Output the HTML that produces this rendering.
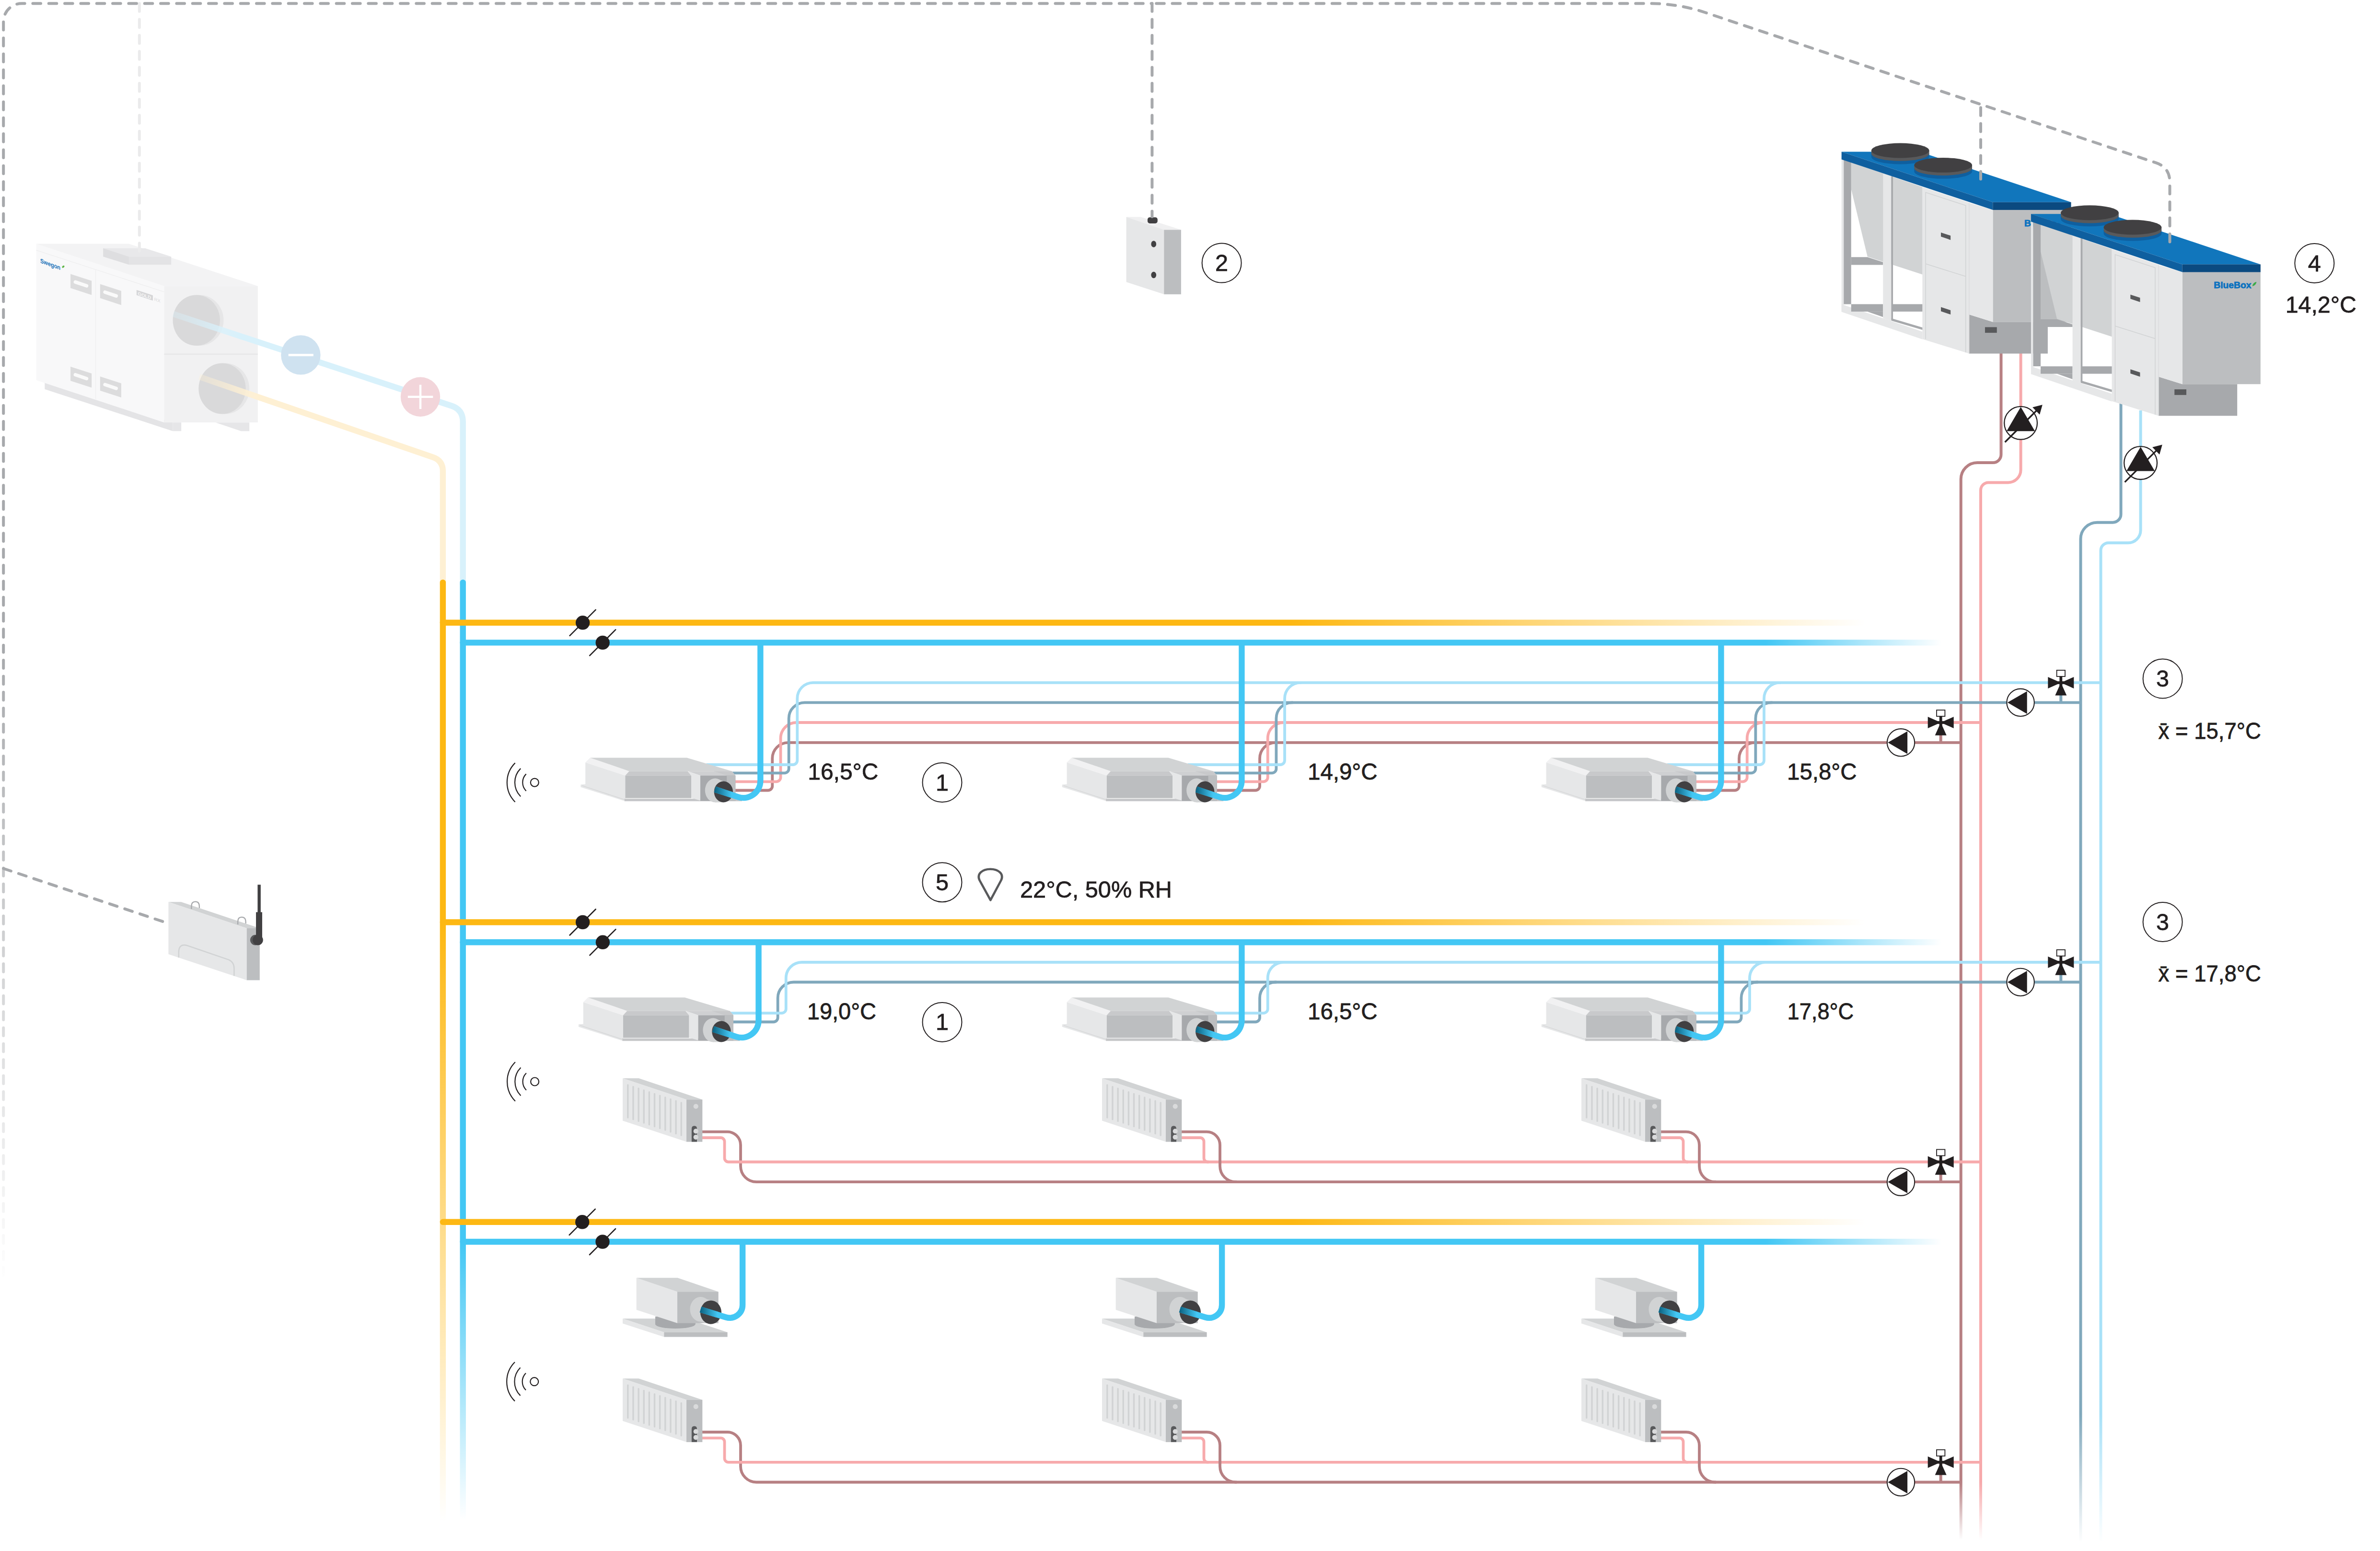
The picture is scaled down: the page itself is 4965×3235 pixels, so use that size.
<!DOCTYPE html>
<html><head><meta charset="utf-8"><style>
html,body{margin:0;padding:0;background:#fff;overflow:hidden}
svg{display:block}
.t{font-family:"Liberation Sans",sans-serif;fill:#231f20;stroke:#231f20;stroke-width:0.8px}
</style></head><body>
<svg width="4965" height="3235" viewBox="0 0 4965 3235">
<rect width="4965" height="3235" fill="#fff"/>
<defs>
<linearGradient id="gOrH" gradientUnits="userSpaceOnUse" x1="2694" y1="0" x2="3890" y2="0"><stop offset="0" stop-color="#fdb813"/><stop offset="1" stop-color="#fdb813" stop-opacity="0"/></linearGradient>
<linearGradient id="gBlH" gradientUnits="userSpaceOnUse" x1="3684" y1="0" x2="4050" y2="0"><stop offset="0" stop-color="#43c7f4"/><stop offset="1" stop-color="#43c7f4" stop-opacity="0"/></linearGradient>
<linearGradient id="gOrV" gradientUnits="userSpaceOnUse" x1="0" y1="1923" x2="0" y2="3175"><stop offset="0" stop-color="#fdb813"/><stop offset="1" stop-color="#fdb813" stop-opacity="0"/></linearGradient>
<linearGradient id="gBlV" gradientUnits="userSpaceOnUse" x1="0" y1="2590" x2="0" y2="3170"><stop offset="0" stop-color="#43c7f4"/><stop offset="1" stop-color="#43c7f4" stop-opacity="0"/></linearGradient>
<linearGradient id="gDash" gradientUnits="userSpaceOnUse" x1="0" y1="1350" x2="0" y2="2680"><stop offset="0" stop-color="#a7a9ac"/><stop offset="1" stop-color="#a7a9ac" stop-opacity="0"/></linearGradient>
<linearGradient id="gMv" gradientUnits="userSpaceOnUse" x1="0" y1="3092" x2="0" y2="3212"><stop offset="0" stop-color="#b78083"/><stop offset="1" stop-color="#b78083" stop-opacity="0"/></linearGradient>
<linearGradient id="gPk" gradientUnits="userSpaceOnUse" x1="0" y1="3092" x2="0" y2="3212"><stop offset="0" stop-color="#f7aaac"/><stop offset="1" stop-color="#f7aaac" stop-opacity="0"/></linearGradient>
<linearGradient id="gGb" gradientUnits="userSpaceOnUse" x1="0" y1="2950" x2="0" y2="3218"><stop offset="0" stop-color="#80a8bc"/><stop offset="1" stop-color="#80a8bc" stop-opacity="0"/></linearGradient>
<linearGradient id="gLb" gradientUnits="userSpaceOnUse" x1="0" y1="2950" x2="0" y2="3218"><stop offset="0" stop-color="#a8e1f8"/><stop offset="1" stop-color="#a8e1f8" stop-opacity="0"/></linearGradient>
<linearGradient id="gConn" x1="0" y1="0" x2="1" y2="0"><stop offset="0" stop-color="#0d6584"/><stop offset="1" stop-color="#43c7f4"/></linearGradient>
</defs>

<g transform="translate(0,400) scale(0.4202)">
<polygon points="222,935 858,1145 858,1188 222,980" fill="#e4e4e6"/>
<rect x="858" y="1145" width="42" height="43" fill="#e6e6e8"/>
<polygon points="1070,1145 1238,1145 1238,1188 1197,1188" fill="#e6e6e8"/>
<polygon points="180,258 815,468 815,1145 180,935" fill="#f8f8f9"/>
<polygon points="180,258 640,258 1280,468 815,468" fill="#f3f3f4"/>
<rect x="815" y="468" width="465" height="677" fill="#f1f1f2"/>
<line x1="815" y1="806" x2="1280" y2="806" stroke="#e3e3e4" stroke-width="4"/>
<line x1="180" y1="290" x2="815" y2="497" stroke="#eeeeef" stroke-width="3"/>
<line x1="475" y1="385" x2="475" y2="1030" stroke="#efeff0" stroke-width="3"/>
<polygon points="512,280 720,280 850,322 640,322" fill="#e8e8ea"/>
<polygon points="512,280 640,322 640,362 512,322" fill="#dedee0"/>
<rect x="640" y="322" width="210" height="40" fill="#e3e3e5"/>
<ellipse cx="990" cy="638" rx="120" ry="126" fill="#e6e6e7"/>
<ellipse cx="975" cy="638" rx="117" ry="126" fill="#d9d9da"/>
<ellipse cx="1118" cy="977" rx="120" ry="126" fill="#e6e6e7"/>
<ellipse cx="1103" cy="977" rx="117" ry="126" fill="#d9d9da"/>
<polygon points="350,408 455,442 455,512 350,478" fill="#dcdcdd"/>
<line x1="374" y1="448" x2="430" y2="467" stroke="#fafafa" stroke-width="17" stroke-linecap="round"/>
<polygon points="497,458 602,492 602,562 497,528" fill="#dcdcdd"/>
<line x1="521" y1="498" x2="577" y2="517" stroke="#fafafa" stroke-width="17" stroke-linecap="round"/>
<polygon points="350,868 455,902 455,972 350,938" fill="#dcdcdd"/>
<line x1="374" y1="908" x2="430" y2="927" stroke="#fafafa" stroke-width="17" stroke-linecap="round"/>
<polygon points="497,917 602,951 602,1021 497,987" fill="#dcdcdd"/>
<line x1="521" y1="957" x2="577" y2="976" stroke="#fafafa" stroke-width="17" stroke-linecap="round"/>
<text transform="translate(200,352) skewY(20)" font-family="Liberation Sans,sans-serif" font-weight="bold" font-size="31" fill="#1a73ba" textLength="100" lengthAdjust="spacingAndGlyphs">Swegon</text>
<ellipse cx="314" cy="372" rx="7" ry="4.5" transform="rotate(-40 314 372)" fill="#5fb548"/>
<polygon points="678,487 759,514 759,540 678,513" fill="#d6d6d8"/>
<text transform="translate(684,512) skewY(18.4)" font-family="Liberation Sans,sans-serif" font-weight="bold" font-size="22" fill="#f6f6f6" textLength="66" lengthAdjust="spacingAndGlyphs">GOLD</text>
<text transform="translate(766,540) skewY(18.4)" font-family="Liberation Sans,sans-serif" font-size="22" fill="#d9d9d9">RX</text>
</g>
<linearGradient id="gLbS" gradientUnits="userSpaceOnUse" x1="361" y1="0" x2="500" y2="0"><stop offset="0" stop-color="#d8f1fb" stop-opacity="0.3"/><stop offset="1" stop-color="#d8f1fb"/></linearGradient>
<linearGradient id="gLyS" gradientUnits="userSpaceOnUse" x1="416" y1="0" x2="540" y2="0"><stop offset="0" stop-color="#fef0d3" stop-opacity="0.3"/><stop offset="1" stop-color="#fef0d3"/></linearGradient>
<path d="M361.4 654.9 L942 846.5 Q965.7 854.3 965.7 879.6 V1220" fill="none" stroke="url(#gLbS)" stroke-width="12.4"/>
<path d="M416 786 L903.1 953.6 Q923.9 960.7 923.9 982.7 V1220" fill="none" stroke="url(#gLyS)" stroke-width="12.4"/>
<circle cx="627.4" cy="740.4" r="41.2" fill="#cfe2f0"/>
<line x1="601.7" y1="740.4" x2="653.8" y2="740.4" stroke="#fff" stroke-width="5"/>
<circle cx="877" cy="827.8" r="41.2" fill="#f2d5da"/>
<line x1="850.8" y1="827.8" x2="903.3" y2="827.8" stroke="#fff" stroke-width="4.5"/>
<line x1="877" y1="802.6" x2="877" y2="853" stroke="#fff" stroke-width="4.5"/>
<g transform="translate(2000,0) scale(0.6723)">
<polygon points="520,673 565,673 690,713 637,713" fill="#f0f0f1"/>
<polygon points="520,673 637,713 637,913 520,875" fill="#e6e7e8"/>
<rect x="637" y="713" width="53" height="200" fill="#bcbec0"/>
<ellipse cx="605" cy="757" rx="8" ry="10" fill="#414042"/>
<ellipse cx="605" cy="853" rx="8" ry="10" fill="#414042"/>
<rect x="586" y="674" width="31" height="19" rx="7" fill="#414042"/>
</g>
<path d="M4174.5 737 V948 A17 17 0 0 1 4157.5 965 H4125 A34.3 34.3 0 0 0 4090.7 999.3 V3215" fill="none" stroke="url(#gMv)" stroke-width="6"/>
<path d="M4215.6 737 V980 A26.4 26.4 0 0 1 4189.2 1006.4 H4148 A16 16 0 0 0 4132 1022.4 V3215" fill="none" stroke="url(#gPk)" stroke-width="6"/>
<path d="M4424.5 841 V1072.7 A17 17 0 0 1 4407.5 1089.7 H4374.8 A34.3 34.3 0 0 0 4340.5 1124 V3215" fill="none" stroke="url(#gGb)" stroke-width="6"/>
<path d="M4465.6 856 V1106 A26.3 26.3 0 0 1 4439.3 1132.3 H4398.5 A16 16 0 0 0 4382.5 1148.3 V3215" fill="none" stroke="url(#gLb)" stroke-width="6"/>
<circle cx="4215.6" cy="882.3" r="34.4" fill="#fff" stroke="#231f20" stroke-width="2.3"/><polygon points="4215.6,848.8 4186.1,899.3 4245.1,899.3" fill="#231f20"/><line x1="4182.6" y1="922.3" x2="4251.6" y2="853.3" stroke="#231f20" stroke-width="3.4"/><polygon points="4260.8,844.1999999999999 4240.1,849.4 4255.0,864.6999999999999" fill="#231f20"/>
<circle cx="4465.6" cy="965.6" r="34.4" fill="#fff" stroke="#231f20" stroke-width="2.3"/><polygon points="4465.6,932.1 4436.1,982.6 4495.1,982.6" fill="#231f20"/><line x1="4432.6" y1="1005.6" x2="4501.6" y2="936.6" stroke="#231f20" stroke-width="3.4"/><polygon points="4510.8,927.5 4490.1,932.7 4505.0,948.0" fill="#231f20"/>
<g transform="translate(3820,280) scale(0.30952)">
<g id="chiller">
<rect x="1090" y="458" width="527" height="807" fill="#bcbec0"/>
<polygon points="930,1215 1090,1265 1460,1265 1460,1478 930,1478" fill="#a7a9ac"/>
<rect x="1037" y="1300" width="80" height="38" fill="#58595b"/>
<polygon points="930,462 1090,510 1090,1265 930,1215" fill="#e6e7e8"/>
<polygon points="615,355 930,460 930,1478 615,1380" fill="#e6e7e8"/>
<polyline points="637,1380 637,392 907,480 907,1470" fill="none" stroke="#d1d3d4" stroke-width="5"/>
<line x1="637" y1="873" x2="907" y2="958" stroke="#d1d3d4" stroke-width="5"/>
<line x1="930" y1="462" x2="930" y2="1478" stroke="#d9dadb" stroke-width="4"/>
<polygon points="740,662 805,683 805,712 740,690" fill="#58595b"/>
<polygon points="740,1165 805,1186 805,1215 740,1193" fill="#58595b"/>
<polygon points="135,190 615,355 615,945 245,825 135,370" fill="#d1d3d4"/>
<polygon points="135,828 245,828 350,862 350,880 135,880" fill="#a7a9ac"/>
<polygon points="70,1145 615,1330 615,1382 70,1197" fill="#e6e7e8"/>
<rect x="135" y="1145" width="215" height="50" fill="#a7a9ac"/>
<rect x="415" y="1145" width="200" height="50" fill="#a7a9ac"/>
<polygon points="245,1195 350,1195 350,1232" fill="#a7a9ac"/>
<polygon points="405,1240 615,1302 615,1318 405,1256" fill="#a7a9ac"/>
<rect x="70" y="150" width="15" height="1045" fill="#e6e7e8"/>
<polygon points="85,165 135,182 135,1145 85,1145" fill="#a7a9ac"/>
<polygon points="350,265 405,283 405,1260 350,1240" fill="#e6e7e8"/>
<rect x="405" y="283" width="12" height="967" fill="#a7a9ac"/>
<polygon points="70,118 596,118 1617,458 1090,458" fill="#1176bc"/>
<polygon points="70,118 1090,458 1090,510 70,170" fill="#0f5f9f"/>
<rect x="1090" y="458" width="527" height="52" fill="#0b4a80"/>
<path d="M271 130 V152 A195 50 0 0 0 661 152 V130 Z" fill="#0f5f9f"/>
<path d="M271 110 V130 A195 50 0 0 0 661 130 V110 Z" fill="#58595b"/>
<ellipse cx="466" cy="110" rx="195" ry="50" fill="#414042"/>
<path d="M560 228 V250 A195 50 0 0 0 950 250 V228 Z" fill="#0f5f9f"/>
<path d="M560 208 V228 A195 50 0 0 0 950 228 V208 Z" fill="#58595b"/>
<ellipse cx="755" cy="208" rx="195" ry="50" fill="#414042"/>
<text x="1302" y="619" font-family="Liberation Sans,sans-serif" font-weight="bold" font-size="62" fill="#0c72bf" stroke="#0c72bf" stroke-width="2.5" textLength="253" lengthAdjust="spacingAndGlyphs">BlueBox</text>
<path d="M1562 605 Q1565 581 1590 575 Q1587 599 1562 605Z" fill="#3aab47"/>
</g>
<use href="#chiller" transform="translate(1277,419)"/>
</g>
<path d="M7.2 1360.4 V45.2 A38 38 0 0 1 45.2 7.2 H2403.4" fill="none" stroke="#a7a9ac" stroke-width="6" stroke-linecap="round" stroke-dasharray="16.6 16.73" stroke-dashoffset="1.87"/>
<path d="M7.2 1360.4 V2680" fill="none" stroke="url(#gDash)" stroke-width="6" stroke-linecap="round" stroke-dasharray="16.6 16.73" stroke-dashoffset="16.63"/>
<path d="M2403.4 7.2 H3440 Q3500.6 7.2 3557 26 L4498 339.7 Q4526.5 349.2 4526.5 380 V506" fill="none" stroke="#a7a9ac" stroke-width="6" stroke-linecap="round" stroke-dasharray="16.6 16.73" stroke-dashoffset="24.53"/>
<path d="M4132 224.5 V373.5" fill="none" stroke="#a7a9ac" stroke-width="6" stroke-linecap="round" stroke-dasharray="16.6 16.73"/>
<path d="M2403.4 7.2 V452" fill="none" stroke="#a7a9ac" stroke-width="6" stroke-linecap="round" stroke-dasharray="16.6 16.73"/>
<path d="M7.2 1811.5 L340.5 1922.4" fill="none" stroke="#a7a9ac" stroke-width="6" stroke-linecap="round" stroke-dasharray="16.6 16.73"/>
<path d="M290.8 7.2 V524" fill="none" stroke="#ebebec" stroke-width="6" stroke-linecap="round" stroke-dasharray="16.6 16.73"/>
<path d="M1533.8 1648.5 H1602.2 A9 9 0 0 0 1611.2 1639.5 V1581.8 A33 33 0 0 1 1644.2 1548.8 H4090.7" fill="none" stroke="#b78083" stroke-width="5.8"/>
<path d="M1533.8 1630.3 H1619.5 A9 9 0 0 0 1628.5 1621.3 V1540.0 A33 33 0 0 1 1661.5 1507.0 H4132" fill="none" stroke="#f7aaac" stroke-width="5.8"/>
<path d="M1528.0 1612.4 H1636.6 A9 9 0 0 0 1645.6 1603.4 V1498.3 A33 33 0 0 1 1678.6 1465.3 H4340.5" fill="none" stroke="#80a8bc" stroke-width="5.8"/>
<path d="M1473.5 1595.0 H1654.2 A9 9 0 0 0 1663.2 1586.0 V1456.9 A33 33 0 0 1 1696.2 1423.9 H4382.5" fill="none" stroke="#a8e1f8" stroke-width="5.8"/>
<path d="M2538.2 1648.5 H2619.0 A9 9 0 0 0 2628.0 1639.5 V1581.8 A33 33 0 0 1 2661.0 1548.8 H2663.0" fill="none" stroke="#b78083" stroke-width="5.8"/>
<path d="M2538.2 1630.3 H2635.7 A9 9 0 0 0 2644.7 1621.3 V1540.0 A33 33 0 0 1 2677.7 1507.0 H2679.7" fill="none" stroke="#f7aaac" stroke-width="5.8"/>
<path d="M2532.4 1612.4 H2653.4 A9 9 0 0 0 2662.4 1603.4 V1498.3 A33 33 0 0 1 2695.4 1465.3 H2697.4" fill="none" stroke="#80a8bc" stroke-width="5.8"/>
<path d="M2477.9 1595.0 H2671.0 A9 9 0 0 0 2680.0 1586.0 V1456.9 A33 33 0 0 1 2713.0 1423.9 H2715.0" fill="none" stroke="#a8e1f8" stroke-width="5.8"/>
<path d="M3538.2 1648.5 H3619.0 A9 9 0 0 0 3628.0 1639.5 V1581.8 A33 33 0 0 1 3661.0 1548.8 H3663.0" fill="none" stroke="#b78083" stroke-width="5.8"/>
<path d="M3538.2 1630.3 H3635.7 A9 9 0 0 0 3644.7 1621.3 V1540.0 A33 33 0 0 1 3677.7 1507.0 H3679.7" fill="none" stroke="#f7aaac" stroke-width="5.8"/>
<path d="M3532.4 1612.4 H3653.4 A9 9 0 0 0 3662.4 1603.4 V1498.3 A33 33 0 0 1 3695.4 1465.3 H3697.4" fill="none" stroke="#80a8bc" stroke-width="5.8"/>
<path d="M3477.9 1595.0 H3671.0 A9 9 0 0 0 3680.0 1586.0 V1456.9 A33 33 0 0 1 3713.0 1423.9 H3715.0" fill="none" stroke="#a8e1f8" stroke-width="5.8"/>
<path d="M1510.6 2131.5 H1613.6 A9 9 0 0 0 1622.6 2122.5 V2081.5 A33 33 0 0 1 1655.6 2048.5 H4340.5" fill="none" stroke="#80a8bc" stroke-width="5.8"/>
<path d="M1510.6 2113.2 H1630.7 A9 9 0 0 0 1639.7 2104.2 V2040.0 A33 33 0 0 1 1672.7 2007.0 H4382.5" fill="none" stroke="#a8e1f8" stroke-width="5.8"/>
<path d="M2519.4 2131.5 H2619.0 A9 9 0 0 0 2628.0 2122.5 V2081.5 A33 33 0 0 1 2661.0 2048.5 H2663.0" fill="none" stroke="#80a8bc" stroke-width="5.8"/>
<path d="M2519.4 2113.2 H2635.7 A9 9 0 0 0 2644.7 2104.2 V2040.0 A33 33 0 0 1 2677.7 2007.0 H2679.7" fill="none" stroke="#a8e1f8" stroke-width="5.8"/>
<path d="M3519.4 2131.5 H3623.5 A9 9 0 0 0 3632.5 2122.5 V2081.5 A33 33 0 0 1 3665.5 2048.5 H3667.5" fill="none" stroke="#80a8bc" stroke-width="5.8"/>
<path d="M3519.4 2113.2 H3641.0 A9 9 0 0 0 3650.0 2104.2 V2040.0 A33 33 0 0 1 3683.0 2007.0 H3685.0" fill="none" stroke="#a8e1f8" stroke-width="5.8"/>
<path d="M1460 2360.7 H1517.4 A27.6 27.6 0 0 1 1545 2388.3 V2432.0 A33 33 0 0 0 1578 2465.2 H4090.7" fill="none" stroke="#b78083" stroke-width="5.8"/>
<path d="M1460 2373.0 H1503.5 A8 8 0 0 1 1511.5 2381.0 V2415.5 A8 8 0 0 0 1519.5 2423.5 H4132" fill="none" stroke="#f7aaac" stroke-width="5.8"/>
<path d="M2460 2360.7 H2517.4 A27.6 27.6 0 0 1 2545 2388.3 V2432.0 A33 33 0 0 0 2578 2465.2 H2580" fill="none" stroke="#b78083" stroke-width="5.8"/>
<path d="M2460 2373.0 H2503.5 A8 8 0 0 1 2511.5 2381.0 V2415.5 A8 8 0 0 0 2519.5 2423.5 H2521.5" fill="none" stroke="#f7aaac" stroke-width="5.8"/>
<path d="M3460 2360.7 H3517.4 A27.6 27.6 0 0 1 3545 2388.3 V2432.0 A33 33 0 0 0 3578 2465.2 H3580" fill="none" stroke="#b78083" stroke-width="5.8"/>
<path d="M3460 2373.0 H3503.5 A8 8 0 0 1 3511.5 2381.0 V2415.5 A8 8 0 0 0 3519.5 2423.5 H3521.5" fill="none" stroke="#f7aaac" stroke-width="5.8"/>
<path d="M1460 2987.0 H1517.4 A27.6 27.6 0 0 1 1545 3014.6 V3058.3 A33 33 0 0 0 1578 3091.5 H4090.7" fill="none" stroke="#b78083" stroke-width="5.8"/>
<path d="M1460 2999.3 H1503.5 A8 8 0 0 1 1511.5 3007.3 V3041.8 A8 8 0 0 0 1519.5 3049.8 H4132" fill="none" stroke="#f7aaac" stroke-width="5.8"/>
<path d="M2460 2987.0 H2517.4 A27.6 27.6 0 0 1 2545 3014.6 V3058.3 A33 33 0 0 0 2578 3091.5 H2580" fill="none" stroke="#b78083" stroke-width="5.8"/>
<path d="M2460 2999.3 H2503.5 A8 8 0 0 1 2511.5 3007.3 V3041.8 A8 8 0 0 0 2519.5 3049.8 H2521.5" fill="none" stroke="#f7aaac" stroke-width="5.8"/>
<path d="M3460 2987.0 H3517.4 A27.6 27.6 0 0 1 3545 3014.6 V3058.3 A33 33 0 0 0 3578 3091.5 H3580" fill="none" stroke="#b78083" stroke-width="5.8"/>
<path d="M3460 2999.3 H3503.5 A8 8 0 0 1 3511.5 3007.3 V3041.8 A8 8 0 0 0 3519.5 3049.8 H3521.5" fill="none" stroke="#f7aaac" stroke-width="5.8"/>
<line x1="4048.7" y1="1507.0" x2="4048.7" y2="1548.8" stroke="#b78083" stroke-width="6"/><polygon points="4021.7,1495.0 4021.7,1519.0 4048.7,1507.0" fill="#231f20"/><polygon points="4075.7,1495.0 4075.7,1519.0 4048.7,1507.0" fill="#231f20"/><polygon points="4048.7,1507.0 4036.7,1533.7 4060.7,1533.7" fill="#231f20"/><line x1="4035.7" y1="1507.0" x2="4061.7" y2="1507.0" stroke="#231f20" stroke-width="5.8"/><line x1="4048.7" y1="1494.0" x2="4048.7" y2="1521.0" stroke="#231f20" stroke-width="5.8"/><rect x="4040.0" y="1481.0" width="17.4" height="13" fill="#fff" stroke="#231f20" stroke-width="1.8"/>
<circle cx="3965.5" cy="1548.8" r="28.7" fill="#fff" stroke="#231f20" stroke-width="2.1"/><polygon points="3938.3,1548.8 3979.1,1525.2 3979.1,1572.4" fill="#231f20"/>
<line x1="4299.3" y1="1423.9" x2="4299.3" y2="1465.3" stroke="#80a8bc" stroke-width="6"/><polygon points="4272.3,1411.9 4272.3,1435.9 4299.3,1423.9" fill="#231f20"/><polygon points="4326.3,1411.9 4326.3,1435.9 4299.3,1423.9" fill="#231f20"/><polygon points="4299.3,1423.9 4287.3,1450.6000000000001 4311.3,1450.6000000000001" fill="#231f20"/><line x1="4286.3" y1="1423.9" x2="4312.3" y2="1423.9" stroke="#231f20" stroke-width="5.8"/><line x1="4299.3" y1="1410.9" x2="4299.3" y2="1437.9" stroke="#231f20" stroke-width="5.8"/><rect x="4290.6" y="1397.9" width="17.4" height="13" fill="#fff" stroke="#231f20" stroke-width="1.8"/>
<circle cx="4215.1" cy="1465.3" r="28.7" fill="#fff" stroke="#231f20" stroke-width="2.1"/><polygon points="4187.9,1465.3 4228.7,1441.7 4228.7,1488.9" fill="#231f20"/>
<line x1="4299.3" y1="2007.0" x2="4299.3" y2="2048.5" stroke="#80a8bc" stroke-width="6"/><polygon points="4272.3,1995.0 4272.3,2019.0 4299.3,2007.0" fill="#231f20"/><polygon points="4326.3,1995.0 4326.3,2019.0 4299.3,2007.0" fill="#231f20"/><polygon points="4299.3,2007.0 4287.3,2033.7 4311.3,2033.7" fill="#231f20"/><line x1="4286.3" y1="2007.0" x2="4312.3" y2="2007.0" stroke="#231f20" stroke-width="5.8"/><line x1="4299.3" y1="1994.0" x2="4299.3" y2="2021.0" stroke="#231f20" stroke-width="5.8"/><rect x="4290.6" y="1981.0" width="17.4" height="13" fill="#fff" stroke="#231f20" stroke-width="1.8"/>
<circle cx="4215.1" cy="2048.5" r="28.7" fill="#fff" stroke="#231f20" stroke-width="2.1"/><polygon points="4187.9,2048.5 4228.7,2024.9 4228.7,2072.1" fill="#231f20"/>
<line x1="4048.7" y1="2423.5" x2="4048.7" y2="2465.2" stroke="#b78083" stroke-width="6"/><polygon points="4021.7,2411.5 4021.7,2435.5 4048.7,2423.5" fill="#231f20"/><polygon points="4075.7,2411.5 4075.7,2435.5 4048.7,2423.5" fill="#231f20"/><polygon points="4048.7,2423.5 4036.7,2450.2 4060.7,2450.2" fill="#231f20"/><line x1="4035.7" y1="2423.5" x2="4061.7" y2="2423.5" stroke="#231f20" stroke-width="5.8"/><line x1="4048.7" y1="2410.5" x2="4048.7" y2="2437.5" stroke="#231f20" stroke-width="5.8"/><rect x="4040.0" y="2397.5" width="17.4" height="13" fill="#fff" stroke="#231f20" stroke-width="1.8"/>
<circle cx="3965.5" cy="2465.2" r="28.7" fill="#fff" stroke="#231f20" stroke-width="2.1"/><polygon points="3938.3,2465.2 3979.1,2441.6 3979.1,2488.8" fill="#231f20"/>
<line x1="4048.7" y1="3049.8" x2="4048.7" y2="3091.5" stroke="#b78083" stroke-width="6"/><polygon points="4021.7,3037.8 4021.7,3061.8 4048.7,3049.8" fill="#231f20"/><polygon points="4075.7,3037.8 4075.7,3061.8 4048.7,3049.8" fill="#231f20"/><polygon points="4048.7,3049.8 4036.7,3076.5 4060.7,3076.5" fill="#231f20"/><line x1="4035.7" y1="3049.8" x2="4061.7" y2="3049.8" stroke="#231f20" stroke-width="5.8"/><line x1="4048.7" y1="3036.8" x2="4048.7" y2="3063.8" stroke="#231f20" stroke-width="5.8"/><rect x="4040.0" y="3023.8" width="17.4" height="13" fill="#fff" stroke="#231f20" stroke-width="1.8"/>
<circle cx="3965.5" cy="3091.5" r="28.7" fill="#fff" stroke="#231f20" stroke-width="2.1"/><polygon points="3938.3,3091.5 3979.1,3067.9 3979.1,3115.1" fill="#231f20"/>
<g id="fc" transform="translate(1200,1560) scale(0.15126)">
<polygon points="75,505 140,500 690,690 690,735 75,540" fill="#e6e7e8"/>
<line x1="95" y1="520" x2="690" y2="716" stroke="#d6d7d8" stroke-width="10"/>
<rect x="680" y="700" width="1620" height="35" fill="#c6c7c9"/>
<polygon points="140,200 690,380 690,700 140,510" fill="#e6e7e8"/>
<polygon points="140,200 205,135 745,320 690,380" fill="#f1f1f2"/>
<polygon points="205,135 1540,135 2160,320 745,320" fill="#d1d3d4"/>
<polygon points="745,320 1550,320 1600,380 690,380" fill="#c8c9cb"/>
<rect x="690" y="380" width="910" height="312" fill="#bcbec0"/>
<polygon points="1550,320 2160,320 2210,380 1725,380" fill="#cfd0d2"/>
<polygon points="1550,320 1725,380 1725,725 1600,690 1600,380" fill="#e6e7e8"/>
<polygon points="1910,320 2160,320 2210,380 2090,380" fill="#c8c9cb"/>
<rect x="1725" y="380" width="485" height="350" fill="#a7a9ac"/>
<rect x="2090" y="380" width="120" height="350" fill="#bcbec0"/>
<polygon points="1930,420 2045,460 2045,750 1930,750" fill="#d1d3d4"/>
<ellipse cx="1930" cy="585" rx="140" ry="165" fill="#d1d3d4"/>
<ellipse cx="2045" cy="605" rx="130" ry="145" fill="#414042"/>
</g>
<use href="#fc" transform="translate(1004.4,0)"/>
<use href="#fc" transform="translate(2004.4,0)"/>
<use href="#fc" transform="translate(-4.4,500)"/>
<use href="#fc" transform="translate(1004.4,500)"/>
<use href="#fc" transform="translate(2004.4,500)"/>
<g id="rad" transform="translate(1290,2240) scale(0.15472)">
<polygon points="58,58 275,58 1133,345 918,345" fill="#d1d3d4"/>
<polygon points="58,58 918,345 918,915 58,630" fill="#e6e7e8"/>
<rect x="918" y="345" width="215" height="570" fill="#bcbec0"/>
<line x1="128" y1="148" x2="128" y2="588" stroke="#d1d3d4" stroke-width="22" stroke-linecap="round"/>
<line x1="200" y1="172" x2="200" y2="612" stroke="#d1d3d4" stroke-width="22" stroke-linecap="round"/>
<line x1="272" y1="196" x2="272" y2="636" stroke="#d1d3d4" stroke-width="22" stroke-linecap="round"/>
<line x1="344" y1="220" x2="344" y2="660" stroke="#d1d3d4" stroke-width="22" stroke-linecap="round"/>
<line x1="416" y1="244" x2="416" y2="684" stroke="#d1d3d4" stroke-width="22" stroke-linecap="round"/>
<line x1="488" y1="268" x2="488" y2="708" stroke="#d1d3d4" stroke-width="22" stroke-linecap="round"/>
<line x1="560" y1="292" x2="560" y2="732" stroke="#d1d3d4" stroke-width="22" stroke-linecap="round"/>
<line x1="632" y1="316" x2="632" y2="756" stroke="#d1d3d4" stroke-width="22" stroke-linecap="round"/>
<line x1="704" y1="340" x2="704" y2="780" stroke="#d1d3d4" stroke-width="22" stroke-linecap="round"/>
<line x1="776" y1="364" x2="776" y2="804" stroke="#d1d3d4" stroke-width="22" stroke-linecap="round"/>
<line x1="848" y1="388" x2="848" y2="828" stroke="#d1d3d4" stroke-width="22" stroke-linecap="round"/>
<circle cx="1045" cy="437" r="33" fill="#d9dadb"/>
<path d="M988 915 V740 Q988 700 1024 700 Q1060 700 1060 740 V915Z" fill="#58595b"/>
<circle cx="1045" cy="772" r="33" fill="#d9dadb"/>
<circle cx="1045" cy="852" r="33" fill="#d9dadb"/>
</g>
<use href="#rad" transform="translate(1000,0)"/>
<use href="#rad" transform="translate(2000,0)"/>
<use href="#rad" transform="translate(0,626.3)"/>
<use href="#rad" transform="translate(1000,626.3)"/>
<use href="#rad" transform="translate(2000,626.3)"/>
<g id="cas" transform="translate(1280,2640) scale(0.12605)">
<polygon points="150,875 1199,875 1885,1100 835,1100" fill="#d1d3d4"/>
<polygon points="150,875 835,1100 835,1178 150,955" fill="#e6e7e8"/>
<rect x="835" y="1100" width="1050" height="78" fill="#bcbec0"/>
<rect x="690" y="840" width="665" height="125" fill="#a7a9ac"/>
<ellipse cx="1022" cy="965" rx="333" ry="75" fill="#a7a9ac"/>
<polygon points="378,200 1055,430 1055,950 378,730" fill="#e6e7e8"/>
<polygon points="378,200 1060,200 1735,430 1055,430" fill="#d1d3d4"/>
<rect x="1055" y="430" width="680" height="520" fill="#bcbec0"/>
<polygon points="1440,515 1610,575 1610,965 1440,925" fill="#d1d3d4"/>
<ellipse cx="1440" cy="720" rx="175" ry="205" fill="#d1d3d4"/>
<ellipse cx="1610" cy="770" rx="175" ry="195" fill="#414042"/>
</g>
<use href="#cas" transform="translate(1000,0)"/>
<use href="#cas" transform="translate(2000,0)"/>
<g transform="translate(0,1700) scale(0.258)">
<polygon points="1362,703 1465,703 2100,915 1995,915" fill="#d1d3d4"/>
<polygon points="1362,703 1995,915 1995,1335 1362,1125" fill="#e6e7e8"/>
<rect x="1995" y="915" width="105" height="420" fill="#bcbec0"/>
<path d="M1445 1152 V1110 Q1445 1035 1515 1055 L1850 1170 Q1893 1190 1893 1240 V1300" fill="none" stroke="#d1d3d4" stroke-width="10"/>
<path d="M1548 760 V735 Q1548 700 1580 700 Q1612 700 1612 740 V752" fill="none" stroke="#a7a9ac" stroke-width="9"/>
<path d="M1923 885 V860 Q1923 825 1955 825 Q1987 825 1987 865 V877" fill="none" stroke="#a7a9ac" stroke-width="9"/>
<ellipse cx="2065" cy="1010" rx="42" ry="42" fill="#58595b"/>
<ellipse cx="2085" cy="1010" rx="42" ry="42" fill="#414042"/>
<rect x="2070" y="785" width="50" height="215" fill="#414042"/>
<rect x="2083" y="563" width="25" height="227" fill="#414042"/>
</g>
<path d="M923.9 1215 V3175" fill="none" stroke="url(#gOrV)" stroke-width="12.4" stroke-linecap="round"/>
<path d="M965.7 1215 V3170" fill="none" stroke="url(#gBlV)" stroke-width="12.4" stroke-linecap="round"/>
<path d="M923.9 1298.8 H3890" fill="none" stroke="url(#gOrH)" stroke-width="12.4" stroke-linecap="round"/>
<path d="M923.9 1923.5 H3890" fill="none" stroke="url(#gOrH)" stroke-width="12.4" stroke-linecap="round"/>
<path d="M923.9 2548.8 H3890" fill="none" stroke="url(#gOrH)" stroke-width="12.4" stroke-linecap="round"/>
<path d="M965.7 1340.4 H4050" fill="none" stroke="url(#gBlH)" stroke-width="12.4" stroke-linecap="round"/>
<path d="M965.7 1965.3 H4050" fill="none" stroke="url(#gBlH)" stroke-width="12.4" stroke-linecap="round"/>
<path d="M965.7 2590 H4050" fill="none" stroke="url(#gBlH)" stroke-width="12.4" stroke-linecap="round"/>
<line x1="1188.6" y1="1325.8" x2="1242.6" y2="1271.8" stroke="#231f20" stroke-width="2.6" stroke-linecap="round"/><circle cx="1215.6" cy="1298.8" r="14.7" fill="#231f20"/>
<line x1="1230.2" y1="1367.4" x2="1284.2" y2="1313.4" stroke="#231f20" stroke-width="2.6" stroke-linecap="round"/><circle cx="1257.2" cy="1340.4" r="14.7" fill="#231f20"/>
<line x1="1188.6" y1="1950.5" x2="1242.6" y2="1896.5" stroke="#231f20" stroke-width="2.6" stroke-linecap="round"/><circle cx="1215.6" cy="1923.5" r="14.7" fill="#231f20"/>
<line x1="1230.4" y1="1992.3" x2="1284.4" y2="1938.3" stroke="#231f20" stroke-width="2.6" stroke-linecap="round"/><circle cx="1257.4" cy="1965.3" r="14.7" fill="#231f20"/>
<line x1="1187.7" y1="2575.8" x2="1241.7" y2="2521.8" stroke="#231f20" stroke-width="2.6" stroke-linecap="round"/><circle cx="1214.7" cy="2548.8" r="14.7" fill="#231f20"/>
<line x1="1230" y1="2617" x2="1284" y2="2563" stroke="#231f20" stroke-width="2.6" stroke-linecap="round"/><circle cx="1257" cy="2590" r="14.7" fill="#231f20"/>
<path d="M1586.3 1340.4 V1628.5 A35.5 35.5 0 0 1 1539.8 1662.3 L1491.6 1646.5" fill="none" stroke="#43c7f4" stroke-width="12.4"/>
<path d="M1491.6 1646.5 L1527.0 1658.1" fill="none" stroke="url(#gConn)" stroke-width="12.4"/>
<path d="M2590.4 1340.4 V1628.5 A35.5 35.5 0 0 1 2543.9 1662.3 L2495.7 1646.5" fill="none" stroke="#43c7f4" stroke-width="12.4"/>
<path d="M2495.7 1646.5 L2531.1 1658.1" fill="none" stroke="url(#gConn)" stroke-width="12.4"/>
<path d="M3590.4 1340.4 V1628.5 A35.5 35.5 0 0 1 3543.9 1662.3 L3495.7 1646.5" fill="none" stroke="#43c7f4" stroke-width="12.4"/>
<path d="M3495.7 1646.5 L3531.1 1658.1" fill="none" stroke="url(#gConn)" stroke-width="12.4"/>
<path d="M1582.5 1965.3 V2128.5 A35.5 35.5 0 0 1 1536.0 2162.3 L1487.8 2146.5" fill="none" stroke="#43c7f4" stroke-width="12.4"/>
<path d="M1487.8 2146.5 L1523.2 2158.1" fill="none" stroke="url(#gConn)" stroke-width="12.4"/>
<path d="M2590.4 1965.3 V2128.5 A35.5 35.5 0 0 1 2543.9 2162.3 L2495.7 2146.5" fill="none" stroke="#43c7f4" stroke-width="12.4"/>
<path d="M2495.7 2146.5 L2531.1 2158.1" fill="none" stroke="url(#gConn)" stroke-width="12.4"/>
<path d="M3590.4 1965.3 V2128.5 A35.5 35.5 0 0 1 3543.9 2162.3 L3495.7 2146.5" fill="none" stroke="#43c7f4" stroke-width="12.4"/>
<path d="M3495.7 2146.5 L3531.1 2158.1" fill="none" stroke="url(#gConn)" stroke-width="12.4"/>
<path d="M1549.1 2590 V2721.7 A27 27 0 0 1 1514.2 2747.5 L1461.5 2731.4" fill="none" stroke="#43c7f4" stroke-width="12.4"/>
<path d="M1461.5 2731.4 L1497.0 2742.2" fill="none" stroke="url(#gConn)" stroke-width="12.4"/>
<path d="M2549.1 2590 V2721.7 A27 27 0 0 1 2514.2 2747.5 L2461.5 2731.4" fill="none" stroke="#43c7f4" stroke-width="12.4"/>
<path d="M2461.5 2731.4 L2497.0 2742.2" fill="none" stroke="url(#gConn)" stroke-width="12.4"/>
<path d="M3549.1 2590 V2721.7 A27 27 0 0 1 3514.2 2747.5 L3461.5 2731.4" fill="none" stroke="#43c7f4" stroke-width="12.4"/>
<path d="M3461.5 2731.4 L3497.0 2742.2" fill="none" stroke="url(#gConn)" stroke-width="12.4"/>
<circle cx="2548.6" cy="548.6" r="41" fill="none" stroke="#231f20" stroke-width="2"/><text x="2548.6" y="565.1" text-anchor="middle" class="t" font-size="48.5">2</text>
<circle cx="4828.3" cy="549.1" r="41" fill="none" stroke="#231f20" stroke-width="2"/><text x="4828.3" y="565.6" text-anchor="middle" class="t" font-size="48.5">4</text>
<circle cx="1965.5" cy="1632.1" r="41" fill="none" stroke="#231f20" stroke-width="2"/><text x="1965.5" y="1648.6" text-anchor="middle" class="t" font-size="48.5">1</text>
<circle cx="1965.5" cy="2131.9" r="41" fill="none" stroke="#231f20" stroke-width="2"/><text x="1965.5" y="2148.4" text-anchor="middle" class="t" font-size="48.5">1</text>
<circle cx="4511.6" cy="1415.4" r="41" fill="none" stroke="#231f20" stroke-width="2"/><text x="4511.6" y="1431.9" text-anchor="middle" class="t" font-size="48.5">3</text>
<circle cx="4511.6" cy="1923.1" r="41" fill="none" stroke="#231f20" stroke-width="2"/><text x="4511.6" y="1939.6" text-anchor="middle" class="t" font-size="48.5">3</text>
<circle cx="1965.5" cy="1840.2" r="41" fill="none" stroke="#231f20" stroke-width="2"/><text x="1965.5" y="1856.7" text-anchor="middle" class="t" font-size="48.5">5</text>
<text x="4767.8" y="651.5" class="t" font-size="48.5" textLength="148" lengthAdjust="spacingAndGlyphs">14,2°C</text>
<text x="1685.3" y="1626.4" class="t" font-size="48.5" textLength="147" lengthAdjust="spacingAndGlyphs">16,5°C</text>
<text x="2728" y="1626.4" class="t" font-size="48.5" textLength="145.6" lengthAdjust="spacingAndGlyphs">14,9°C</text>
<text x="3728" y="1626.4" class="t" font-size="48.5" textLength="145.6" lengthAdjust="spacingAndGlyphs">15,8°C</text>
<text x="1683.8" y="2126.4" class="t" font-size="48.5" textLength="144.2" lengthAdjust="spacingAndGlyphs">19,0°C</text>
<text x="2728" y="2126.4" class="t" font-size="48.5" textLength="145.6" lengthAdjust="spacingAndGlyphs">16,5°C</text>
<text x="3728.6" y="2126.4" class="t" font-size="48.5" textLength="138.6" lengthAdjust="spacingAndGlyphs">17,8°C</text>
<text x="4502.5" y="1540.5" class="t" font-size="48.5" textLength="214.3" lengthAdjust="spacingAndGlyphs">x̄ = 15,7°C</text>
<text x="4502.5" y="2047.1" class="t" font-size="48.5" textLength="214.3" lengthAdjust="spacingAndGlyphs">x̄ = 17,8°C</text>
<text x="2128" y="1871.5" class="t" font-size="48.5" textLength="317" lengthAdjust="spacingAndGlyphs">22°C, 50% RH</text>
<path d="M2066.3 1877.4 L2043.5 1836 C2037 1822 2050 1812.7 2066 1812.7 C2082 1812.7 2095 1822 2088.5 1836 Z" fill="none" stroke="#58595b" stroke-width="4.6" stroke-linejoin="round"/>
<path d="M1097.6 1614.4 A25 25 0 0 0 1097.6 1649.8" fill="none" stroke="#231f20" stroke-width="2.2"/><path d="M1086.1 1602.9 A41.3 41.3 0 0 0 1086.1 1661.3" fill="none" stroke="#231f20" stroke-width="2.2"/><path d="M1074.6 1591.4 A57.6 57.6 0 0 0 1074.6 1672.8" fill="none" stroke="#231f20" stroke-width="2.2"/><circle cx="1115.3" cy="1632.1" r="8.5" fill="none" stroke="#231f20" stroke-width="2.2"/>
<path d="M1097.9 2238.3 A25 25 0 0 0 1097.9 2273.7" fill="none" stroke="#231f20" stroke-width="2.2"/><path d="M1086.4 2226.8 A41.3 41.3 0 0 0 1086.4 2285.2" fill="none" stroke="#231f20" stroke-width="2.2"/><path d="M1074.9 2215.3 A57.6 57.6 0 0 0 1074.9 2296.7" fill="none" stroke="#231f20" stroke-width="2.2"/><circle cx="1115.6" cy="2256" r="8.5" fill="none" stroke="#231f20" stroke-width="2.2"/>
<path d="M1097.0 2864.0 A25 25 0 0 0 1097.0 2899.4" fill="none" stroke="#231f20" stroke-width="2.2"/><path d="M1085.5 2852.5 A41.3 41.3 0 0 0 1085.5 2910.9" fill="none" stroke="#231f20" stroke-width="2.2"/><path d="M1074.0 2841.0 A57.6 57.6 0 0 0 1074.0 2922.4" fill="none" stroke="#231f20" stroke-width="2.2"/><circle cx="1114.7" cy="2881.7" r="8.5" fill="none" stroke="#231f20" stroke-width="2.2"/>
</svg></body></html>
